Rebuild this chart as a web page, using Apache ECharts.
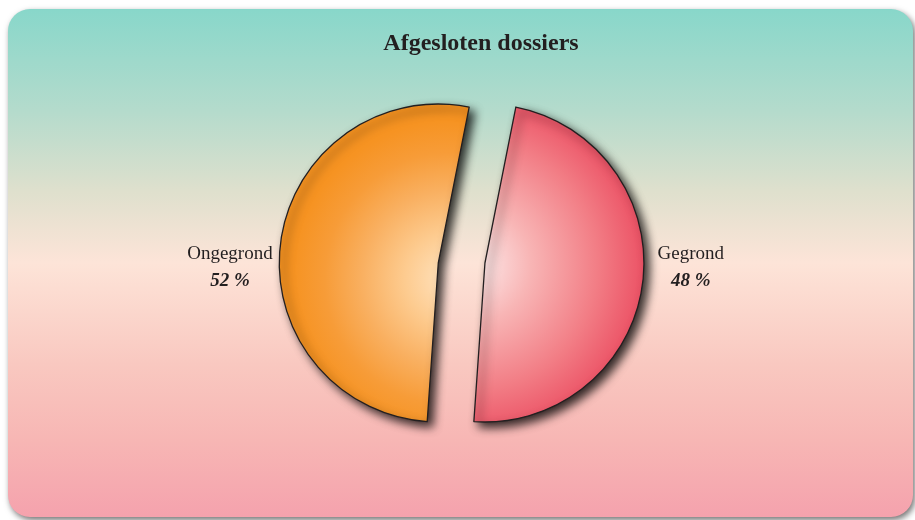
<!DOCTYPE html>
<html>
<head>
<meta charset="utf-8">
<script src="https://cdn.jsdelivr.net/npm/echarts@6/dist/echarts.min.js"></script>
<style>
html,body{margin:0;padding:0;background:#ffffff;}
#chart{width:915px;height:520px;}
</style>
</head>
<body>
<div id="chart"></div>
<script>
var titleText = 'Afgesloten dossiers';
var categories = ['Ongegrond', 'Gegrond'];
var values = [52, 48];

var serif = '"Liberation Serif", "DejaVu Serif", serif';
var textColor = '#231f20';

var fills = [
  { type: 'radial', x: 0.9, y: 0.55, r: 1.1, colorStops: [
    { offset: 0, color: '#ffe4c2' },
    { offset: 0.22, color: '#fdcb8f' },
    { offset: 0.42, color: '#f9b061' },
    { offset: 0.6, color: '#f79c38' },
    { offset: 0.75, color: '#f69322' },
    { offset: 1, color: '#f6921e' }
  ]},
  { type: 'radial', x: 0.0, y: 0.5, r: 1.12, colorStops: [
    { offset: 0, color: '#fdecec' },
    { offset: 0.3, color: '#f8b5b5' },
    { offset: 0.65, color: '#f27d85' },
    { offset: 1, color: '#e93f57' }
  ]}
];
var labelPads = [[52, 0, 0, 0], [0, 0, 33, 0]];
var labelDist = [8, 15];
var centers = [['47.9%', 263], ['53.0%', 263]];

function makeSeries(k) {
  return {
    type: 'pie',
    center: centers[k],
    radius: [0, 159],
    startAngle: -94,
    clockwise: true,
    avoidLabelOverlap: false,
    animation: false,
    silent: true,
    emphasis: { disabled: true },
    labelLine: { show: false, length: 0, length2: 0 },
    data: categories.map(function (name, i) {
      var on = i === k;
      return {
        name: name,
        value: values[i],
        itemStyle: on ? {
          color: fills[i],
          borderColor: '#231f20',
          borderWidth: 1.3,
          shadowBlur: 10,
          shadowOffsetX: 5,
          shadowOffsetY: 5,
          shadowColor: 'rgba(0,0,0,0.8)'
        } : {
          color: 'rgba(0,0,0,0)',
          borderWidth: 0,
          shadowBlur: 0
        },
        label: on ? {
          show: true,
          position: 'outside',
          distanceToLabelLine: labelDist[i],
          padding: labelPads[i],
          formatter: '{n|{b}}\n{p|{c} %}',
          rich: {
            n: { fontFamily: serif, fontSize: 19, color: textColor, lineHeight: 27, align: 'center' },
            p: { fontFamily: serif, fontSize: 19, fontWeight: 'bold', fontStyle: 'italic', color: textColor, lineHeight: 27, align: 'center' }
          }
        } : { show: false }
      };
    })
  };
}

var chart = echarts.init(document.getElementById('chart'), null, { renderer: 'canvas' });
chart.setOption({
  animation: false,
  graphic: [{
    type: 'rect',
    z: -10,
    shape: { x: 8, y: 9, width: 905, height: 508, r: 22 },
    style: {
      fill: { type: 'linear', x: 0, y: 0, x2: 0, y2: 1, colorStops: [
        { offset: 0, color: '#88d7ca' },
        { offset: 0.2, color: '#b4dbcc' },
        { offset: 0.36, color: '#dfe0cd' },
        { offset: 0.5, color: '#fde4d8' },
        { offset: 0.7, color: '#f9c8c0' },
        { offset: 0.85, color: '#f7b6b4' },
        { offset: 1, color: '#f5a2ad' }
      ]},
      shadowBlur: 6,
      shadowOffsetX: 2,
      shadowOffsetY: 3,
      shadowColor: 'rgba(0,0,0,0.55)'
    }
  }],
  title: {
    text: titleText,
    left: 476,
    top: 27,
    textAlign: 'center',
    textStyle: { fontFamily: serif, fontSize: 24, fontWeight: 'bold', color: textColor }
  },
  series: [makeSeries(0), makeSeries(1)]
});
</script>
</body>
</html>
